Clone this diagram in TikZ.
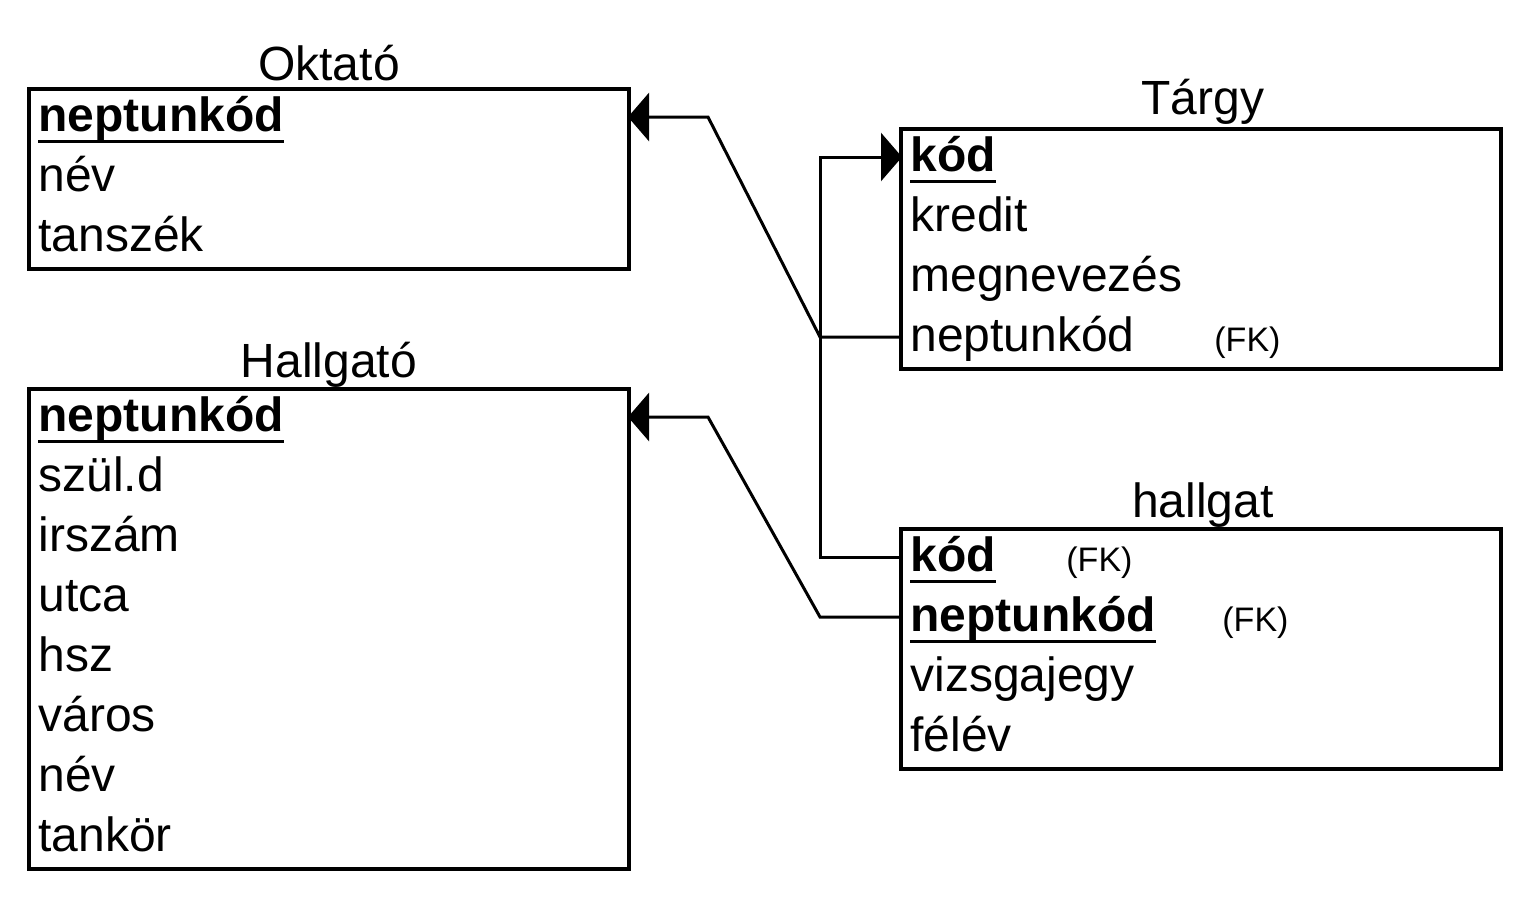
\documentclass[tikz,border=0pt]{standalone}
\usepackage{fontspec}
\setmainfont{Liberation Sans}
\usetikzlibrary{arrows.meta}
\newsavebox\kulcsdoboz
\newcommand\kulcs[1]{\sbox\kulcsdoboz{\bfseries #1}\rlap{\usebox\kulcsdoboz}\rule[-5.8pt]{\wd\kulcsdoboz}{1.5pt}}
\tikzset{
	tabla/.style={draw, line width=2pt, inner sep=0pt, minimum width=300pt},
	cim/.style={anchor=base, inner sep=0pt, font=\fontsize{24}{30}\selectfont},
	sor/.style={anchor=west, inner sep=0pt, text height=19pt, text depth=5pt, font=\fontsize{24}{30}\selectfont},
	fk/.style={anchor=base west, inner sep=0pt, font=\fontsize{17}{20}\selectfont},
	kapcs/.style={line width=1.5pt, shorten >=-1.5pt, -{Triangle[length=10.5pt,width=24pt]}},
}
\begin{document}
\begin{tikzpicture}[x=0.5pt,y=-0.5pt]
	\useasboundingbox (0,0) rectangle (1528,896);
	% tablak
	\node[tabla, minimum height=90pt] (oktato) at (329,179) {};
	\node[tabla, minimum height=240pt] (hallgato) at (329,629) {};
	\node[tabla, minimum height=120pt] (targy) at (1201,249) {};
	\node[tabla, minimum height=120pt] (hallg) at (1201,649) {};
	\node[cim] (oktato-cim) at (329,80) {Oktató};
	\node[cim] (hallgato-cim) at (329,377) {Hallgató};
	\node[cim] (targy-cim) at (1203,114) {Tárgy};
	\node[cim] (hallg-cim) at (1203,517) {hallgat};
	% mezok
	\foreach \t [count=\i] in {\kulcs{neptunkód}, név, tanszék}
		\node[sor] (okt-\i) at (38,{57+60*\i}) {\t};
	\foreach \t [count=\i] in {\kulcs{neptunkód}, szül.d, irszám, utca, hsz, város, név, tankör}
		\node[sor] (hall-\i) at (38,{357+60*\i}) {\t};
	\foreach \t [count=\i] in {\kulcs{kód}, kredit, megnevezés, neptunkód}
		\node[sor] (targy-\i) at (910,{97+60*\i}) {\t};
	\foreach \t [count=\i] in {\kulcs{kód}, \kulcs{neptunkód}, vizsgajegy, félév}
		\node[sor] (hallg-\i) at (910,{497+60*\i}) {\t};
	\node[fk] (targy-fk) at (1214,351) {(FK)};
	\node[fk] (hallg-fk1) at (1066,571) {(FK)};
	\node[fk] (hallg-fk2) at (1222,631) {(FK)};
	% kapcsolatok
	\coordinate (elag) at (820,337);
	\coordinate (tor1) at (708,117);
	\coordinate (fel1) at (820,557);
	\coordinate (fel2) at (820,157);
	\coordinate (tor2) at (820,617);
	\coordinate (tor3) at (708,417);
	\draw[kapcs] (targy.west |- targy-4) -- (elag) -- (tor1) -- (oktato.east |- okt-1);
	\draw[kapcs] (hallg.west |- hallg-1) -- (fel1) -- (fel2) -- (targy.west |- targy-1);
	\draw[kapcs] (hallg.west |- hallg-2) -- (tor2) -- (tor3) -- (hallgato.east |- hall-1);
\end{tikzpicture}
\end{document}
